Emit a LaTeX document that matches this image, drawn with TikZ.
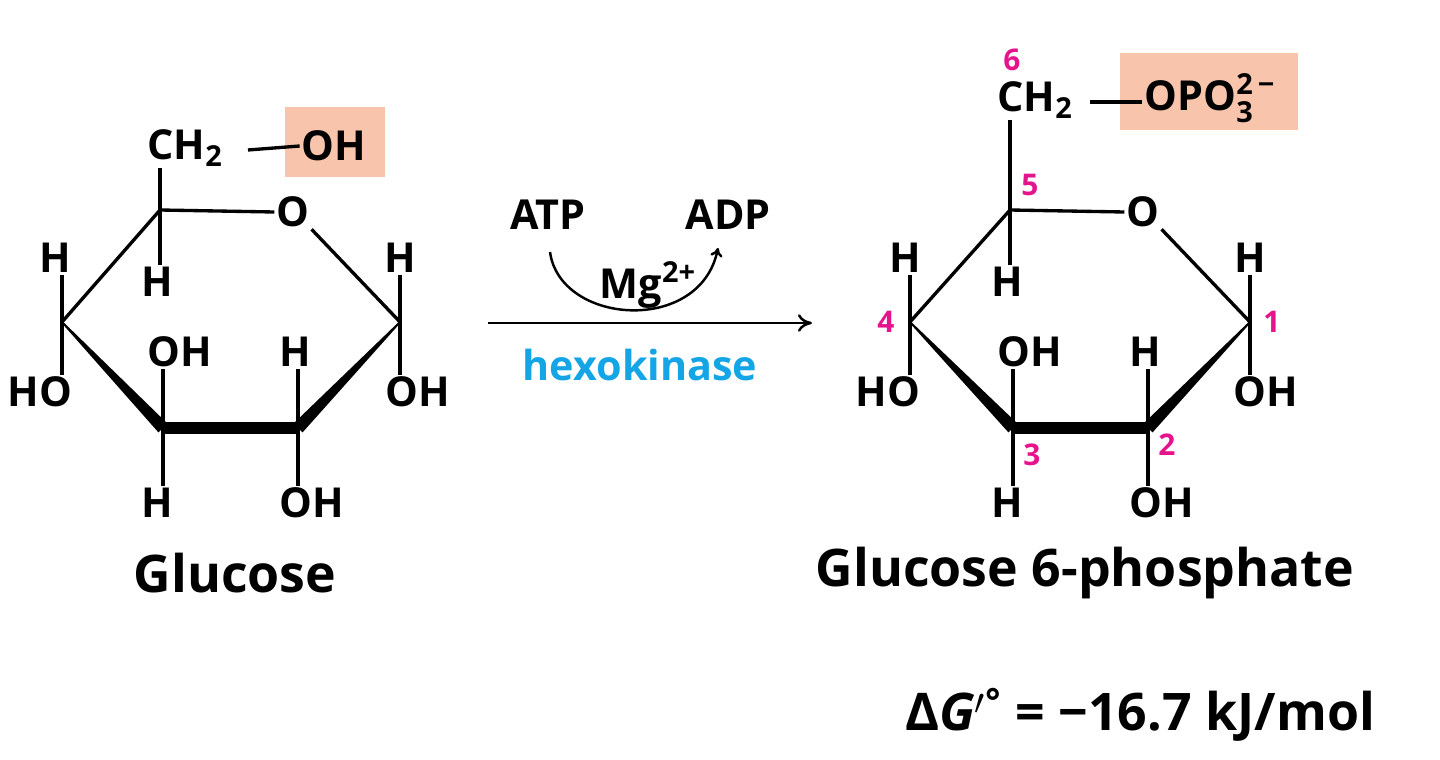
\documentclass[tikz,border=0pt]{standalone}
\usepackage{amsmath}
\usepackage{fontspec}
\setmainfont{Open Sans}[UprightFont={* Bold},ItalicFont={* Bold Italic}]
\usetikzlibrary{calc,arrows.meta}
\definecolor{hl}{RGB}{248,196,172}
\definecolor{mag}{RGB}{230,20,140}
\definecolor{cy}{RGB}{20,165,230}
\tikzset{
  atom/.style={inner sep=1pt,font=\fontsize{23.5}{24}\selectfont},
  num/.style={inner sep=1pt,text=mag,font=\fontsize{17}{17}\selectfont},
  bond/.style={line width=1.9pt},
  big/.style={font=\fontsize{29.5}{30}\selectfont},
}
\newcommand{\sugarwedge}[2]{\fill ($(#1)!0.5pt!90:(#2)$) -- ($(#1)!0.5pt!-90:(#2)$) -- ($(#2)!3.6pt!90:(#1)$) -- ($(#2)!3.6pt!-90:(#1)$) -- cycle;}
\begin{document}
\begin{tikzpicture}[x=0.02cm,y=-0.02cm]
\useasboundingbox (0,0) rectangle (1440,760);
% ---------- left ring ----------
\coordinate (a5) at (160,210); \coordinate (a1) at (400,322);
\coordinate (a2) at (298,428); \coordinate (a3) at (163,428); \coordinate (a4) at (62,322);
\node[atom] (aO) at (293,212) {O};
\fill[hl] (285,107) rectangle (385,177);
\node[atom] (aCH) at (185,148) {CH\textsubscript{2}};
\node[atom] (aOH6) at (334,146) {OH};
\draw[bond] (248,150) -- (aOH6.west);
\draw[bond] (a5) -- (aCH.south -| a5);
\draw[bond] (a5) -- (aO.west); \draw[bond] (aO.south east) -- (a1);
\draw[bond] (a4) -- (a5);
\sugarwedge{a1}{a2} \sugarwedge{a4}{a3}
\draw[line width=7pt] (a3) -- (a2);
\node[atom] (aH5) at (157,282) {H}; \draw[bond] (a5) -- (aH5.north -| a5);
\node[atom] (aH4) at (55,258) {H}; \draw[bond] (a4) -- (a4 |- aH4.south);
\node[atom] (aHO4) at (40,392) {HO}; \draw[bond] (a4) -- (a4 |- aHO4.north);
\node[atom] (aH1) at (400,258) {H}; \draw[bond] (a1) -- (a1 |- aH1.south);
\node[atom] (aOH1) at (418,392) {OH}; \draw[bond] (a1) -- (a1 |- aOH1.north);
\node[atom] (aOH3) at (180,352) {OH}; \draw[bond] (a3) -- (a3 |- aOH3.south);
\node[atom] (aH3) at (157,503) {H}; \draw[bond] (a3) -- (a3 |- aH3.north);
\node[atom] (aH2) at (295,352) {H}; \draw[bond] (a2) -- (a2 |- aH2.south);
\node[atom] (aOH2) at (312,503) {OH}; \draw[bond] (a2) -- (a2 |- aOH2.north);
\node[big] (gl) at (235,573) {Glucose};
% ---------- right ring ----------
\coordinate (b5) at (1010,210); \coordinate (b1) at (1250,322);
\coordinate (b2) at (1148,428); \coordinate (b3) at (1013,428); \coordinate (b4) at (910,322);
\node[atom] (bO) at (1143,212) {O};
\fill[hl] (1120,53) rectangle (1298,130);
\node[atom] (bCH) at (1035,100) {CH\textsubscript{2}};
\node[atom] (bP) at (1210,98) {OPO$^{\text{2\,\textminus}}_{\text{3}}$};
\draw[bond] (1090,102) -- (1142,102);
\draw[bond] (b5) -- (bCH.south -| b5);
\draw[bond] (b5) -- (bO.west); \draw[bond] (bO.south east) -- (b1);
\draw[bond] (b4) -- (b5);
\sugarwedge{b1}{b2} \sugarwedge{b4}{b3}
\draw[line width=7pt] (b3) -- (b2);
\node[atom] (bH5) at (1007,282) {H}; \draw[bond] (b5) -- (bH5.north -| b5);
\node[atom] (bH4) at (905,258) {H}; \draw[bond] (b4) -- (b4 |- bH4.south);
\node[atom] (bHO4) at (888,392) {HO}; \draw[bond] (b4) -- (b4 |- bHO4.north);
\node[atom] (bH1) at (1250,258) {H}; \draw[bond] (b1) -- (b1 |- bH1.south);
\node[atom] (bOH1) at (1266,392) {OH}; \draw[bond] (b1) -- (b1 |- bOH1.north);
\node[atom] (bOH3) at (1030,352) {OH}; \draw[bond] (b3) -- (b3 |- bOH3.south);
\node[atom] (bH3) at (1007,503) {H}; \draw[bond] (b3) -- (b3 |- bH3.north);
\node[atom] (bH2) at (1145,352) {H}; \draw[bond] (b2) -- (b2 |- bH2.south);
\node[atom] (bOH2) at (1162,503) {OH}; \draw[bond] (b2) -- (b2 |- bOH2.north);
\node[num] (n6) at (1012,60) {6};
\node[num] (n5) at (1030,185) {5};
\node[num] (n4) at (886,322) {4};
\node[num] (n1) at (1272,322) {1};
\node[num] (n3) at (1032,455) {3};
\node[num] (n2) at (1167,445) {2};
\node[big] (g6) at (1085,573) {Glucose 6-phosphate};
% ---------- reaction arrow ----------
\coordinate (s) at (488,323); \coordinate (e) at (812,323);
\draw[line width=1.4pt,-{To[length=8pt,width=10pt]}] (s) -- (e);
\node[atom] (atp) at (548,215) {ATP};
\node[atom] (adp) at (728,215) {ADP};
\node[atom] (mg) at (648,285) {Mg\textsuperscript{2+}};
\draw[line width=1.4pt,-{To[length=5pt,width=7pt]}] (550,252) .. controls (560,325) and (700,335) .. (718,248);
\node[atom,text=cy] (hk) at (640,365) {hexokinase};
\node[big] (dg) at (1140,715) {Δ\textit{G}$'$\textsuperscript{°} = \textminus16.7 kJ/mol};
\end{tikzpicture}
\end{document}
